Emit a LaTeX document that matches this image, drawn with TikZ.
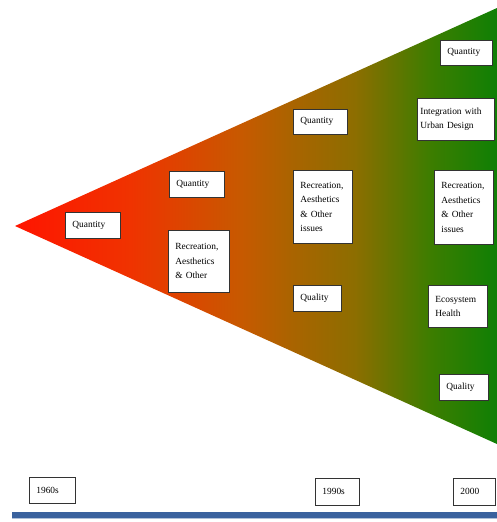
\documentclass[tikz,border=0pt]{standalone}
\usepackage{fontspec}
\setmainfont{Liberation Serif}
\definecolor{barblue}{RGB}{58,98,158}
\pgfdeclarehorizontalshading{wedge}{100bp}{%
  rgb(0bp)=(1,0.08,0); rgb(25bp)=(1,0.08,0); rgb(37bp)=(0.94,0.2,0);
  rgb(48.5bp)=(0.78,0.35,0); rgb(53.5bp)=(0.67,0.39,0); rgb(60.3bp)=(0.55,0.43,0);
  rgb(68bp)=(0.24,0.49,0); rgb(75bp)=(0.06,0.5,0.02); rgb(100bp)=(0.06,0.5,0.02)}
\tikzset{
  box/.style={draw=black!80, line width=0.8pt, fill=white, anchor=north west,
    inner xsep=7pt, inner ysep=2pt, align=left,
    font=\fontsize{9.4}{14.5}\selectfont},
}
\begin{document}
\begin{tikzpicture}[x=1pt, y=-1pt]
                \useasboundingbox (0,0) rectangle (497,522);
                % widening wedge
                \shade[shading=wedge] (15,226) -- (497,8) -- (497,444) -- cycle;
                % 1960s
                \node[box, text width=41pt, minimum height=26pt] (qone) at (65,212) {Quantity};
                % middle stage
                \node[box, text width=41pt, minimum height=26pt] (qtwo) at (169,171) {Quantity};
                \node[box, text width=47pt, minimum height=62pt] (rtwo) at (168,230) {Recreation,\\ Aesthetics\\ \& Other};
                % 1990s
                \node[box, text width=40pt, minimum height=25pt] (qthree) at (293,109) {Quantity};
                \node[box, text width=45pt, minimum height=73pt] (rthree) at (293,170) {Recreation,\\ Aesthetics\\ \& Other\\ issues};
                \node[box, text width=34pt, minimum height=26pt] (lthree) at (293,285) {Quality};
                % 2000
                \node[box, text width=38pt, minimum height=25pt] (qfour) at (440,40) {Quantity};
                \node[box, inner xsep=3pt, text width=71pt, minimum height=42pt] (ifour) at (417,98) {Integration with\\ Urban Design};
                \node[box, text width=45pt, minimum height=74pt] (rfour) at (434,170) {Recreation,\\ Aesthetics\\ \& Other\\ issues};
                \node[box, text width=45pt, minimum height=42pt] (efour) at (428,285) {Ecosystem\\ Health};
                \node[box, text width=35pt, minimum height=26pt] (lfour) at (439,374) {Quality};
                % time line
                \node[box, text width=32pt, minimum height=26pt] (tone) at (29,477) {1960s};
                \node[box, text width=30pt, minimum height=27pt] (ttwo) at (315,478) {1990s};
                \node[box, text width=28pt, minimum height=27pt] (tthree) at (453,478) {2000};
                \fill[barblue] (12,512) rectangle (497,518);
                \draw[barblue!40, line width=0.8pt] (12,518) -- (497,518);
            \end{tikzpicture}
\end{document}
